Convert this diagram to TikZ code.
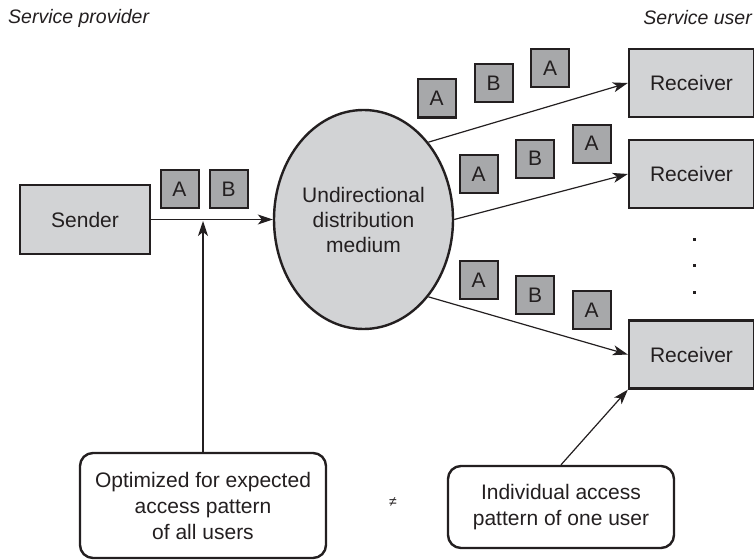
\documentclass[tikz,border=0pt]{standalone}
\usepackage{fontspec}
\setmainfont{Liberation Sans}
\usetikzlibrary{shapes.geometric,arrows.meta}
\definecolor{boxgray}{HTML}{D2D3D5}
\definecolor{pktgray}{HTML}{A7A8AA}
\definecolor{ink}{HTML}{231F20}
\tikzset{
  every node/.style={text=ink},
  bigbox/.style={draw=ink, line width=2.4pt, fill=boxgray, inner sep=0pt, font=\fontsize{21}{25}\selectfont},
  pkt/.style={draw=ink, line width=2pt, fill=pktgray, minimum width=38pt, minimum height=38pt, inner sep=0pt, font=\fontsize{21}{25}\selectfont},
  note/.style={draw=ink, line width=2.4pt, rounded corners=13pt, fill=white, inner sep=0pt, align=center, font=\fontsize{21}{26}\selectfont},
  conn/.style={draw=ink, line width=1.2pt, -{Stealth[length=15pt,width=10pt,inset=4pt]}},
  hdr/.style={font=\fontsize{19.5}{23}\selectfont\itshape, inner sep=0pt},
}
\begin{document}
\begin{tikzpicture}[x=1pt,y=-1pt]
\useasboundingbox (0,0) rectangle (754,559);
% headers
\node[hdr, anchor=west] (prov) at (8,18) {Service provider};
\node[hdr, anchor=east] (usr) at (752,18) {Service user};
% sender
\node[bigbox, minimum width=130pt, minimum height=69pt] (snd) at (85,219.5) {Sender};
% medium
\node[ellipse, draw=ink, line width=2.4pt, fill=boxgray, minimum width=179pt, minimum height=219pt, inner sep=0pt, align=center, font=\fontsize{21}{25}\selectfont] (med) at (363.5,219.5) {Undirectional\\distribution\\medium};
% receivers
\node[bigbox, minimum width=125pt, minimum height=68pt] (rec1) at (691.5,83) {Receiver};
\node[bigbox, minimum width=125pt, minimum height=68pt] (rec2) at (691.5,174) {Receiver};
\node[bigbox, minimum width=125pt, minimum height=68pt] (rec3) at (691.5,354.5) {Receiver};
% dots
\fill[ink] (693,238) rectangle (696,241);
\fill[ink] (693,264) rectangle (696,267);
\fill[ink] (693,291) rectangle (696,294);
% packets
\node[pkt] (s1) at (179.5,189) {A};
\node[pkt] (s2) at (228.5,189) {B};
\node[pkt] (a1) at (436.5,98.5) {A};
\node[pkt] (a2) at (493.5,83) {B};
\node[pkt] (a3) at (550,68.5) {A};
\node[pkt] (b1) at (478.5,174) {A};
\node[pkt] (b2) at (535,158.5) {B};
\node[pkt] (b3) at (591.5,143.5) {A};
\node[pkt] (c1) at (478.5,280) {A};
\node[pkt] (c2) at (535,295) {B};
\node[pkt] (c3) at (591.5,310) {A};
% notes
\node[note, minimum width=246pt, minimum height=105pt] (n1) at (203,505.5) {Optimized for expected\\access pattern\\of all users};
\node[note, minimum width=226pt, minimum height=82pt] (n2) at (561,507) {Individual access\\pattern of one user};
\node[font=\fontsize{14}{16}\selectfont, inner sep=0pt] (neq) at (393,502) {≠};
% connectors
\coordinate (hit) at (203,221);
\draw[conn] (snd.east) -- (med.west);
\draw[conn] (n1.north) -- (hit);
\draw[conn] (med.50) -- (rec1.west);
\draw[conn] (med.east) -- (rec2.west);
\draw[conn] (med.-50) -- (rec3.west);
\draw[conn] (n2.north) -- (rec3.south west);
\end{tikzpicture}
\end{document}
